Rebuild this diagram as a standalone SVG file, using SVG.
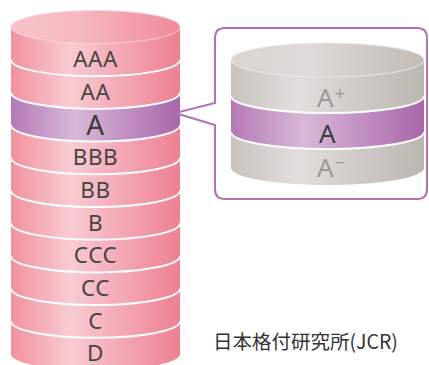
<svg xmlns="http://www.w3.org/2000/svg" width="429" height="365" viewBox="0 0 429 365">
<defs>
<linearGradient id="pink" x1="0" y1="0" x2="1" y2="0">
<stop offset="0" stop-color="#f1919e"/><stop offset="0.35" stop-color="#f9cbd2"/><stop offset="1" stop-color="#ee8093"/>
</linearGradient>
<linearGradient id="pinkTop" x1="0" y1="0" x2="1" y2="0">
<stop offset="0" stop-color="#f7c2ca"/><stop offset="0.4" stop-color="#f6b8c1"/><stop offset="1" stop-color="#f08a9a"/>
</linearGradient>
<linearGradient id="purple" x1="0" y1="0" x2="1" y2="0">
<stop offset="0" stop-color="#b47ab5"/><stop offset="0.38" stop-color="#d8b8d8"/><stop offset="1" stop-color="#a966a9"/>
</linearGradient>
<linearGradient id="gray" x1="0" y1="0" x2="1" y2="0">
<stop offset="0" stop-color="#c8c2be"/><stop offset="0.35" stop-color="#e2dedb"/><stop offset="1" stop-color="#bcb5b0"/>
</linearGradient>
<linearGradient id="grayTop" x1="0" y1="0" x2="1" y2="0">
<stop offset="0" stop-color="#dad5d1"/><stop offset="0.4" stop-color="#dfdad7"/><stop offset="1" stop-color="#c2bbb6"/>
</linearGradient>
</defs>
<style>
.sep{fill:none;stroke:#fff;stroke-width:2}
.lbl{font-family:"Noto Sans","Liberation Sans",sans-serif;font-size:22.5px;fill:#454545;text-anchor:middle;letter-spacing:0.5px}
.big{font-size:28px;fill:#3a3a3a}
.gr{font-family:"Noto Sans","Liberation Sans",sans-serif;font-size:26px;fill:#9d9794}
.cap{font-family:"Noto Sans CJK JP","Noto Sans",sans-serif;font-size:19.5px;fill:#333}
</style>

<g id="left-cylinder">
<path fill="url(#pink)" d="M11,27 A84.5,16.5 0 0 0 180,27 V59.7 A84.5,16.5 0 0 1 11,59.7 Z"/>
<path fill="url(#pink)" d="M11,59.7 A84.5,16.5 0 0 0 180,59.7 V92.4 A84.5,16.5 0 0 1 11,92.4 Z"/>
<path fill="url(#purple)" d="M11,92.4 A84.5,16.5 0 0 0 180,92.4 V125.1 A84.5,16.5 0 0 1 11,125.1 Z"/>
<path fill="url(#pink)" d="M11,125.1 A84.5,16.5 0 0 0 180,125.1 V157.8 A84.5,16.5 0 0 1 11,157.8 Z"/>
<path fill="url(#pink)" d="M11,157.8 A84.5,16.5 0 0 0 180,157.8 V190.5 A84.5,16.5 0 0 1 11,190.5 Z"/>
<path fill="url(#pink)" d="M11,190.5 A84.5,16.5 0 0 0 180,190.5 V223.2 A84.5,16.5 0 0 1 11,223.2 Z"/>
<path fill="url(#pink)" d="M11,223.2 A84.5,16.5 0 0 0 180,223.2 V255.9 A84.5,16.5 0 0 1 11,255.9 Z"/>
<path fill="url(#pink)" d="M11,255.9 A84.5,16.5 0 0 0 180,255.9 V288.6 A84.5,16.5 0 0 1 11,288.6 Z"/>
<path fill="url(#pink)" d="M11,288.6 A84.5,16.5 0 0 0 180,288.6 V321.3 A84.5,16.5 0 0 1 11,321.3 Z"/>
<path fill="url(#pink)" d="M11,321.3 A84.5,16.5 0 0 0 180,321.3 V354 A84.5,16.5 0 0 1 11,354 Z"/>
<ellipse cx="95.5" cy="27" rx="84.5" ry="16.5" fill="url(#pinkTop)" stroke="#fbd3d9" stroke-width="0.8"/>
<path class="sep" d="M11,59.7 A84.5,16.5 0 0 0 180,59.7"/>
<path class="sep" d="M11,92.4 A84.5,16.5 0 0 0 180,92.4"/>
<path class="sep" d="M11,125.1 A84.5,16.5 0 0 0 180,125.1"/>
<path class="sep" d="M11,157.8 A84.5,16.5 0 0 0 180,157.8"/>
<path class="sep" d="M11,190.5 A84.5,16.5 0 0 0 180,190.5"/>
<path class="sep" d="M11,223.2 A84.5,16.5 0 0 0 180,223.2"/>
<path class="sep" d="M11,255.9 A84.5,16.5 0 0 0 180,255.9"/>
<path class="sep" d="M11,288.6 A84.5,16.5 0 0 0 180,288.6"/>
<path class="sep" d="M11,321.3 A84.5,16.5 0 0 0 180,321.3"/>
<text class="lbl" x="95.5" y="67.3">AAA</text>
<text class="lbl" x="95.5" y="100">AA</text>
<text class="lbl big" x="95.5" y="135">A</text>
<text class="lbl" x="95.5" y="165.2">BBB</text>
<text class="lbl" x="95.5" y="197.9">BB</text>
<text class="lbl" x="95.5" y="230.6">B</text>
<text class="lbl" x="95.5" y="263.3">CCC</text>
<text class="lbl" x="95.5" y="296">CC</text>
<text class="lbl" x="95.5" y="328.7">C</text>
<text class="lbl" x="95.5" y="361">D</text>
</g>

<g id="connectors">
<path d="M215,103 L175,113 L215,125 V189 Q215,199 225,199 H417 Q427,199 427,189 V38 Q427,28 417,28 H225 Q215,28 215,38 Z" fill="none" stroke="#b470b4" stroke-width="2" stroke-linejoin="miter"/>
</g>

<g id="right-cylinder">
<path fill="url(#gray)" d="M231,60 A96.5,17 0 0 0 424,60 V96 A96.5,17 0 0 1 231,96 Z"/>
<path fill="url(#purple)" d="M231,96 A96.5,17 0 0 0 424,96 V132 A96.5,17 0 0 1 231,132 Z"/>
<path fill="url(#gray)" d="M231,132 A96.5,17 0 0 0 424,132 V168 A96.5,17 0 0 1 231,168 Z"/>
<ellipse cx="327.5" cy="60" rx="96.5" ry="17" fill="url(#grayTop)" stroke="#ece9e7" stroke-width="0.8"/>
<path class="sep" d="M231,96 A96.5,17 0 0 0 424,96"/>
<path class="sep" d="M231,132 A96.5,17 0 0 0 424,132"/>
<text class="gr" x="317" y="107">A<tspan font-size="18" dx="1" dy="-7">+</tspan></text>
<text class="lbl big" x="327.5" y="142.5" style="font-size:26px">A</text>
<text class="gr" x="317" y="177">A<tspan font-size="18" dx="1" dy="-8">−</tspan></text>
</g>

<g id="caption">
<text class="cap" x="213" y="349">日本格付研究所(JCR)</text>
</g>
</svg>
